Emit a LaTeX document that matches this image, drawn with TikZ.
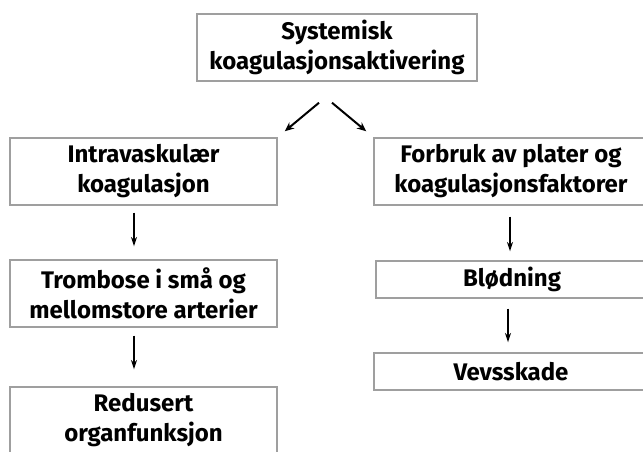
\documentclass[tikz,border=0pt]{standalone}
\usepackage{fontspec}
\setmainfont{Fira Sans}
\usetikzlibrary{arrows.meta,calc}
\begin{document}
\begin{tikzpicture}[x=0.75pt,y=-0.75pt,
  box/.style={draw=gray!75, line width=1.1pt, inner sep=0pt, align=center,
    font=\fontsize{18}{22.5}\selectfont\bfseries, text=black},
  tall/.style={minimum height=50.25pt},
  short/.style={minimum height=27.75pt},
  diag/.style={line width=1.5pt, -{Stealth[length=7pt,width=6pt]}},
  vert/.style={line width=0.9pt, -{Stealth[length=7pt,width=4.5pt]}}]
\useasboundingbox (0,0) rectangle (643,451);
\clip (0,0) rectangle (643,451);
\node[box,tall,minimum width=210pt] (top) at (337,47.5) {Systemisk\\koagulasjonsaktivering};
\node[box,tall,minimum width=200.25pt] (L1) at (143.5,171.5) {Intravaskulær\\koagulasjon};
\node[box,tall,minimum width=200.25pt] (L2) at (143.5,293.5) {Trombose i små og\\mellomstore arterier};
\node[box,tall,minimum width=200.25pt] (L3) at (143.5,420.5) {Redusert\\organfunksjon};
\node[box,tall,minimum width=205.5pt] (R1) at (511,171.5) {Forbruk av plater og\\koagulasjonsfaktorer};
\node[box,short,minimum width=204pt] (R2) at (512,279.5) {Blødning};
\node[box,short,minimum width=205.5pt] (R3) at (511,371.5) {Vevsskade};
\draw[diag] ($(top.south)+(-18,21)$) -- ($(L1.north east)+(7,-6)$);
\draw[diag] ($(top.south)+(-5,21)$) -- ($(R1.north west)+(-7,-6)$);
\draw[vert] ($(L1.south)+(-9.5,7)$) -- ($(L2.north)+(-9.5,-13)$);
\draw[vert] ($(L2.south)+(-9.5,8)$) -- ($(L3.north)+(-9.5,-17)$);
\draw[vert] ($(R1.south)+(-1,11)$) -- ($(R2.north)+(-2,-9)$);
\draw[vert] ($(R2.south)+(-4,10)$) -- ($(R3.north)+(-3,-10)$);
\end{tikzpicture}
\end{document}
